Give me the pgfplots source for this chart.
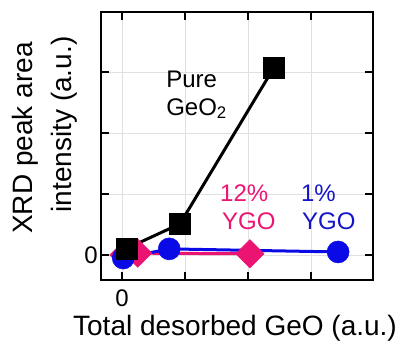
\documentclass[border=0pt]{standalone}
\usepackage{fontspec}
\setmainfont{Liberation Sans}
\usepackage{pgfplots}
\pgfplotsset{compat=1.18}
\definecolor{ypink}{RGB}{235,20,115}
\definecolor{yblue}{RGB}{10,10,230}
\definecolor{ybluetext}{RGB}{20,20,200}
\begin{document}
\begin{tikzpicture}
\path[use as bounding box] (-101pt,-69pt) rectangle (306pt,280pt);
\begin{axis}[
  at={(0pt,0pt)}, anchor=south west,
  scale only axis, width=272pt, height=268pt,
  xmin=-0.333, xmax=3.984, ymin=-0.41, ymax=3.984,
  xtick={0,1,2,3}, ytick={0,1,2,3},
  xticklabels={0,,,}, yticklabels={0,,,},
  tick align=inside, major tick length=8pt,
  tick style={black, line width=2pt},
  axis line style={line width=2.8pt},
  grid=major, major grid style={black!12, line width=0.8pt},
  tick label style={font=\fontsize{24}{28}\selectfont, inner sep=0pt},
  xticklabel style={yshift=-10pt},
  yticklabel style={xshift=-3pt},
  /pgf/number format/assume math mode=true,
  clip=false,
]
\addplot[ypink, line width=3pt, mark=square*, mark size=10pt,
  mark options={rotate=45, fill=ypink, draw=ypink, line width=0.5pt}]
  coordinates {(0.03,0) (0.25,0.03) (2.03,0.02)};
\addplot[yblue, line width=3pt, mark=*, mark size=11pt,
  mark options={fill=yblue, draw=yblue, line width=0.5pt}]
  coordinates {(0.02,-0.05) (0.75,0.10) (3.43,0.05)};
\addplot[black, line width=3pt, mark=square*, mark size=10.5pt,
  mark options={fill=black, line width=0.5pt}]
  coordinates {(0.08,0.11) (0.92,0.51) (2.41,3.07)};
\node[anchor=base west, inner sep=0pt, font=\fontsize{24}{28}\selectfont] at (axis cs:0.70,2.754) {Pure};
\node[anchor=base west, inner sep=0pt, font=\fontsize{24}{28}\selectfont] at (axis cs:0.70,2.295) {GeO\textsubscript{2}};
\node[anchor=base west, inner sep=0pt, text=ypink, font=\fontsize{24}{28}\selectfont] at (axis cs:1.556,0.869) {12\%};
\node[anchor=base west, inner sep=0pt, text=ypink, font=\fontsize{24}{28}\selectfont] at (axis cs:1.587,0.41) {YGO};
\node[anchor=base west, inner sep=0pt, text=ybluetext, font=\fontsize{24}{28}\selectfont] at (axis cs:2.84,0.869) {1\%};
\node[anchor=base west, inner sep=0pt, text=ybluetext, font=\fontsize{24}{28}\selectfont] at (axis cs:2.857,0.41) {YGO};
\end{axis}
\node[anchor=base, inner sep=0pt, font=\fontsize{28}{32}\selectfont] at (134pt,-55pt) {Total desorbed GeO (a.u.)};
\node[rotate=90, anchor=base, inner sep=0pt, font=\fontsize{28}{32}\selectfont] at (-68pt,142pt) {XRD peak area};
\node[rotate=90, anchor=base, inner sep=0pt, font=\fontsize{28}{32}\selectfont] at (-29pt,155.5pt) {intensity (a.u.)};
\end{tikzpicture}
\end{document}
